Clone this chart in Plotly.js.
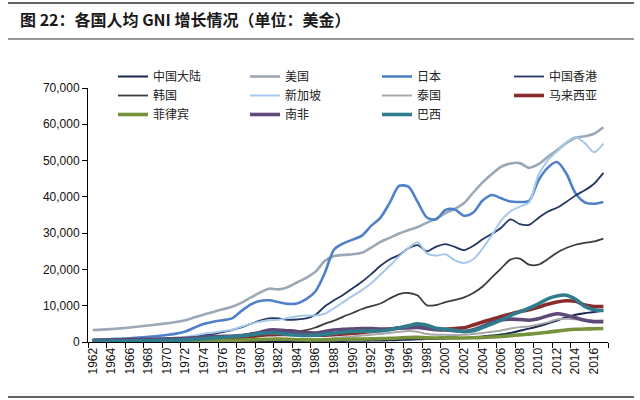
<!DOCTYPE html>
<html>
<head>
<meta charset="utf-8">
<script src="https://cdn.plot.ly/plotly-3.0.1.min.js"></script>
<style>
  html, body { margin: 0; padding: 0; background: #fff; }
  #chart { width: 640px; height: 400px; }
</style>
</head>
<body>
<div id="chart"></div>
<script>
// years on the category axis
var years = [1962, 1963, 1964, 1965, 1966, 1967, 1968, 1969, 1970, 1971,
  1972, 1973, 1974, 1975, 1976, 1977, 1978, 1979, 1980, 1981,
  1982, 1983, 1984, 1985, 1986, 1987, 1988, 1989, 1990, 1991,
  1992, 1993, 1994, 1995, 1996, 1997, 1998, 1999, 2000, 2001,
  2002, 2003, 2004, 2005, 2006, 2007, 2008, 2009, 2010, 2011,
  2012, 2013, 2014, 2015, 2016, 2017];
var tickYears = [1962, 1964, 1966, 1968, 1970, 1972, 1974, 1976, 1978, 1980,
  1982, 1984, 1986, 1988, 1990, 1992, 1994, 1996, 1998, 2000,
  2002, 2004, 2006, 2008, 2010, 2012, 2014, 2016];
var tickLabels = ["1962", "1964", "1966", "1968", "1970", "1972", "1974", "1976", "1978", "1980",
  "1982", "1984", "1986", "1988", "1990", "1992", "1994", "1996", "1998", "2000",
  "2002", "2004", "2006", "2008", "2010", "2012", "2014", "2016"];

// GNI per capita, US$
var chinaMainland = [70, 70, 90, 100, 110, 100, 90, 100, 110, 120,
  130, 150, 160, 180, 170, 180, 200, 210, 220, 220,
  220, 250, 290, 290, 280, 280, 300, 310, 330, 350,
  390, 410, 460, 540, 650, 750, 800, 860, 940, 1010,
  1100, 1270, 1510, 1760, 2060, 2510, 3100, 3690, 4340, 5060,
  5940, 6800, 7520, 7950, 8250, 8690];
var usa = [3300, 3400, 3550, 3750, 4000, 4250, 4550, 4850, 5150, 5500,
  6000, 6800, 7600, 8300, 9000, 9700, 10800, 12200, 13600, 14700,
  14500, 15100, 16400, 17700, 19400, 22300, 23700, 24000, 24200, 24600,
  26000, 27600, 28700, 29900, 30800, 31700, 32900, 34000, 35500, 36700,
  38300, 41200, 44000, 46300, 48300, 49200, 49300, 48000, 49000, 51000,
  52800, 54800, 56300, 56700, 57400, 59200];
var japan = [600, 700, 800, 900, 1000, 1200, 1400, 1650, 1950, 2300,
  2900, 4000, 5000, 5600, 6000, 6500, 8500, 10300, 11300, 11500,
  11000, 10500, 10600, 11800, 14000, 19000, 25500, 27200, 28200, 29300,
  32000, 34300, 38400, 43000, 42800, 38600, 34300, 33800, 36400, 36500,
  34800, 35700, 39000, 40500, 39600, 38700, 38600, 38900, 44500, 48000,
  49600, 46500, 41000, 38500, 38100, 38600];
var hongKong = [400, 450, 500, 550, 600, 650, 700, 800, 900, 1000,
  1200, 1500, 1900, 2200, 2700, 3300, 4000, 5000, 5900, 6500,
  6500, 6100, 6200, 6500, 7500, 9800, 11500, 13000, 14800, 16600,
  18700, 21000, 22800, 24000, 25800, 26700, 25000, 26300, 27000, 26200,
  25300, 26500, 28300, 29800, 31500, 33800, 32500, 32300, 34200, 35900,
  37000, 38600, 40400, 41800, 43600, 46600];
var korea = [110, 130, 130, 120, 130, 160, 200, 250, 290, 320,
  340, 400, 550, 650, 850, 1400, 1900, 2400, 2700, 2800,
  2800, 2800, 2900, 3300, 4000, 5000, 5900, 7000, 8000, 9100,
  9900, 10600, 12000, 13200, 13500, 12800, 10100, 10200, 11000, 11600,
  12300, 13500, 15300, 17800, 20300, 22700, 23000, 21300, 21300, 22800,
  24600, 25900, 26800, 27300, 27700, 28500];
var singapore = [450, 500, 520, 550, 600, 650, 700, 800, 950, 1100,
  1400, 1800, 2300, 2600, 3000, 3400, 4200, 5000, 5600, 6000,
  6100, 6600, 7100, 7300, 7300, 7800, 9300, 11000, 12700, 14300,
  16200, 18600, 21000, 23600, 25800, 27500, 24400, 23800, 24200, 22500,
  21800, 22800, 25800, 29500, 33500, 36000, 37300, 38500, 46000, 50000,
  52500, 55000, 56500, 54800, 52300, 54700];
var thailand = [110, 110, 120, 130, 140, 160, 170, 190, 200, 210,
  220, 260, 320, 370, 420, 470, 540, 620, 710, 790,
  820, 820, 850, 810, 800, 880, 1060, 1290, 1530, 1780,
  1990, 2230, 2500, 2800, 3000, 2800, 2200, 2000, 2000, 1900,
  2000, 2200, 2500, 2800, 3200, 3700, 4100, 4300, 4800, 5400,
  6200, 6400, 6300, 6100, 5900, 6000];
var malaysia = [300, 310, 320, 330, 340, 350, 360, 380, 400, 420,
  460, 580, 700, 800, 900, 1050, 1250, 1500, 1800, 2000,
  2100, 2100, 2200, 2100, 1900, 1900, 2000, 2200, 2400, 2600,
  2900, 3200, 3500, 3900, 4300, 4500, 3900, 3500, 3500, 3700,
  3900, 4700, 5500, 6300, 7000, 7700, 8400, 8900, 9600, 10400,
  11000, 11350, 11200, 10200, 9800, 9800];
var philippines = [170, 180, 190, 200, 210, 220, 230, 240, 230, 230,
  240, 280, 340, 390, 430, 470, 530, 610, 690, 770,
  790, 740, 640, 580, 560, 590, 660, 740, 780, 800,
  860, 920, 990, 1110, 1230, 1270, 1140, 1110, 1160, 1130,
  1120, 1160, 1240, 1360, 1520, 1720, 1960, 2160, 2400, 2700,
  3000, 3300, 3500, 3600, 3650, 3700];
var southAfrica = [500, 530, 570, 610, 650, 700, 740, 800, 850, 920,
  1000, 1150, 1350, 1500, 1550, 1600, 1750, 2050, 2600, 3300,
  3300, 3100, 2900, 2600, 2500, 2900, 3300, 3500, 3600, 3700,
  3700, 3600, 3600, 3800, 3900, 4000, 3700, 3400, 3300, 3100,
  2900, 3400, 4300, 5400, 6100, 6300, 6200, 6000, 6400, 7200,
  7800, 7400, 6700, 6000, 5600, 5600];
var brazil = [260, 280, 260, 260, 290, 320, 350, 380, 440, 500,
  580, 720, 900, 1100, 1300, 1500, 1700, 1950, 2300, 2500,
  2400, 2100, 1900, 1800, 1900, 2100, 2400, 2700, 2900, 3000,
  3000, 3100, 3400, 3900, 4500, 5000, 4600, 3800, 3500, 3200,
  2900, 3100, 4000, 5000, 6000, 7300, 8300, 9300, 10500, 11900,
  12700, 12900, 11800, 9800, 8900, 8700];

var seriesNames = ["中国大陆", "美国", "日本", "中国香港", "韩国", "新加坡",
  "泰国", "马来西亚", "菲律宾", "南非", "巴西"];
var seriesValues = [chinaMainland, usa, japan, hongKong, korea, singapore,
  thailand, malaysia, philippines, southAfrica, brazil];
var seriesColors = ["#17264f", "#9ba8b6", "#4f80c8", "#223763", "#3d3d3d", "#a6c8ea",
  "#a8a8a8", "#8a2b2b", "#76923c", "#5e4979", "#2f7d8c"];
var seriesWidths = [2, 2.6, 2.6, 1.8, 1.8, 2, 2, 3.6, 3.6, 3.6, 3.6];
// one legend per column so the columns sit where the reference has them
var seriesLegend = ["legend", "legend2", "legend3", "legend4", "legend", "legend2",
  "legend3", "legend4", "legend", "legend2", "legend3"];

var data = [];
for (let i = 0; i < seriesNames.length; i++) {
  data.push({
    x: years,
    y: seriesValues[i],
    name: seriesNames[i],
    type: "scatter",
    mode: "lines",
    legend: seriesLegend[i],
    line: { color: seriesColors[i], width: seriesWidths[i], shape: "spline", smoothing: 0.8 },
    hoverinfo: "skip"
  });
}

// pixel helpers for things placed outside the plot area
var plotL = 88, plotR = 608, plotT = 88, plotB = 342;
function px(x) { return (x - plotL) / (plotR - plotL); }
function py(y) { return (plotB - y) / (plotB - plotT); }

var legendFont = { family: "Noto Sans CJK SC, sans-serif", size: 12, color: "#222" };
function legendAt(xPx) {
  return {
    x: px(xPx), xanchor: "left", y: py(62), yanchor: "top",
    orientation: "v", bgcolor: "rgba(0,0,0,0)", borderwidth: 0,
    font: legendFont, itemwidth: 30, tracegroupgap: 0
  };
}

var boundaries = tickYears.map(function (y) { return y - 0.5; }).concat([2017.5]);

var layout = {
  width: 640,
  height: 400,
  margin: { l: plotL, r: 640 - plotR, t: plotT, b: 400 - plotB, pad: 0 },
  paper_bgcolor: "#fff",
  plot_bgcolor: "#fff",
  showlegend: true,
  legend: legendAt(113),
  legend2: legendAt(245),
  legend3: legendAt(377),
  legend4: legendAt(509),
  xaxis: {
    range: [1961.5, 2017.5],
    tickmode: "array",
    tickvals: tickYears,
    ticktext: tickLabels,
    tickangle: -90,
    ticks: "",
    showline: true,
    linecolor: "#000",
    linewidth: 1,
    showgrid: false,
    zeroline: false,
    tickfont: { family: "Liberation Sans, Arial, sans-serif", size: 12, color: "#111" },
    minor: { tickmode: "array", tickvals: boundaries, ticks: "outside", ticklen: 5, tickwidth: 1, tickcolor: "#000", showgrid: false }
  },
  yaxis: {
    range: [0, 70000],
    tickmode: "linear",
    tick0: 0,
    dtick: 10000,
    tickformat: ",d",
    ticks: "outside",
    ticklen: 5,
    tickwidth: 1,
    tickcolor: "#000",
    showline: true,
    linecolor: "#000",
    linewidth: 1,
    showgrid: false,
    zeroline: false,
    tickfont: { family: "Liberation Sans, Arial, sans-serif", size: 12, color: "#111" }
  },
  annotations: [{
    text: "<b>图 22：各国人均 GNI 增长情况（单位：美金）</b>",
    xref: "paper", yref: "paper",
    x: px(18), y: py(19), xanchor: "left", yanchor: "middle",
    showarrow: false,
    font: { family: "Noto Sans CJK SC, sans-serif", size: 16, color: "#1a1a1a" }
  }],
  shapes: [
    { type: "line", xref: "paper", yref: "paper", x0: px(8), x1: px(634), y0: py(3), y1: py(3), line: { color: "#333", width: 1.5 } },
    { type: "line", xref: "paper", yref: "paper", x0: px(8), x1: px(634), y0: py(39), y1: py(39), line: { color: "#333", width: 1 } },
    { type: "line", xref: "paper", yref: "paper", x0: px(8), x1: px(634), y0: py(397), y1: py(397), line: { color: "#333", width: 1.5 } }
  ]
};

Plotly.newPlot("chart", data, layout, { displayModeBar: false, staticPlot: true });
</script>
</body>
</html>
